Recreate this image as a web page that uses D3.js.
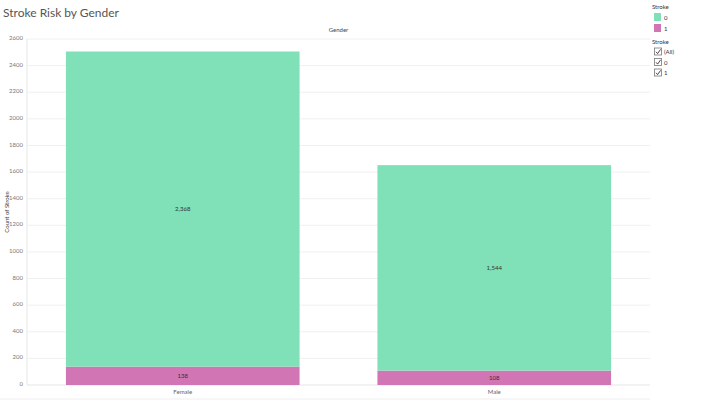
<!DOCTYPE html>
<html>
<head>
<meta charset="utf-8">
<script src="https://cdn.jsdelivr.net/npm/d3@7"></script>
<style>
  body { margin: 0; background: #fff; font-family: Lato, "Open Sans", sans-serif; }
  #graf { width: 720px; height: 400px; }
</style>
</head>
<body>
<div id="graf"></div>
<script>
const genders = ["Female", "Male"];
const stroke0 = [2368, 1544];
const stroke1 = [138, 108];
const strokeKeys = ["0", "1"];
const yTicks = d3.range(0, 2601, 200);

const colores = { "0": "#80e0b8", "1": "#d175b5" };

const ancho_total = 720;
const alto_total = 400;
const margins = { top: 39, left: 27, right: 70, bottom: 15 };
const ancho = ancho_total - margins.left - margins.right;
const alto = alto_total - margins.top - margins.bottom;

const svg = d3.select("#graf").append("svg")
  .attr("width", ancho_total)
  .attr("height", alto_total);

svg.append("text")
  .attr("x", 3).attr("y", 17)
  .style("font-size", "12px")
  .style("fill", "#555")
  .text("Stroke Risk by Gender");

const g = svg.append("g")
  .attr("transform", `translate(${margins.left}, ${margins.top})`);

const y = d3.scaleLinear().domain([0, 2600]).range([alto, 0]);
const x = d3.scaleBand().domain(genders).range([0, ancho]).paddingInner(0.25).paddingOuter(0.125);

// gridlines
g.selectAll(".grid").data(yTicks).join("line")
  .attr("x1", 0).attr("x2", ancho)
  .attr("y1", d => y(d)).attr("y2", d => y(d))
  .attr("stroke", d => d === 0 ? "#e6e6e6" : "#f0f0f0")
  .attr("stroke-width", 1);

g.append("line")
  .attr("x1", 0).attr("x2", 0).attr("y1", 0).attr("y2", alto)
  .attr("stroke", "#e6e6e6");

// y axis labels
const yAxis = d3.axisLeft(y).tickValues(yTicks).tickFormat(d3.format("d")).tickSize(0).tickPadding(4);
const yAxisGroup = g.append("g").call(yAxis);
yAxisGroup.select(".domain").remove();
yAxisGroup.selectAll("text")
  .attr("dy", "0.1em")
  .style("font-size", "6px")
  .style("fill", "#777")
  .style("font-family", "Lato, sans-serif");

svg.append("text")
  .attr("transform", `translate(9, ${margins.top + alto / 2}) rotate(-90)`)
  .attr("text-anchor", "middle")
  .style("font-size", "6px")
  .style("fill", "#444")
  .text("Count of Stroke");

// column header
svg.append("text")
  .attr("x", margins.left + ancho / 2).attr("y", 32)
  .attr("text-anchor", "middle")
  .style("font-size", "6px")
  .style("fill", "#444")
  .text("Gender");

// stacked bars
const tabla = genders.map((gn, i) => ({ gender: gn, "0": stroke0[i], "1": stroke1[i] }));
const series = d3.stack().keys(["1", "0"])(tabla);

series.forEach(s => {
  g.selectAll(null).data(s).join("rect")
    .attr("x", d => x(d.data.gender))
    .attr("width", x.bandwidth())
    .attr("y", d => y(d[1]))
    .attr("height", d => y(d[0]) - y(d[1]))
    .attr("fill", colores[s.key]);

  g.selectAll(null).data(s).join("text")
    .attr("x", d => x(d.data.gender) + x.bandwidth() / 2)
    .attr("y", d => (y(d[0]) + y(d[1])) / 2 + 2)
    .attr("text-anchor", "middle")
    .style("font-size", "6px")
    .style("fill", "#333")
    .text(d => d3.format(",")(d[1] - d[0]));
});

// x axis labels
g.selectAll(".xlab").data(genders).join("text")
  .attr("x", d => x(d) + x.bandwidth() / 2)
  .attr("y", alto + 9)
  .attr("text-anchor", "middle")
  .style("font-size", "6px")
  .style("fill", "#666")
  .text(d => d);

svg.append("line")
  .attr("x1", 0).attr("x2", 650).attr("y1", 399).attr("y2", 399)
  .attr("stroke", "#eee");

// legend
const leg = svg.append("g").attr("transform", "translate(652, 0)");
leg.append("text").attr("x", 0).attr("y", 9)
  .style("font-size", "6px").style("fill", "#333").text("Stroke");
strokeKeys.forEach((k, i) => {
  leg.append("rect").attr("x", 2).attr("y", 13 + i * 11).attr("width", 7).attr("height", 8)
    .attr("fill", colores[k]);
  leg.append("text").attr("x", 12).attr("y", 19.5 + i * 11)
    .style("font-size", "6px").style("fill", "#333").text(k);
});

leg.append("text").attr("x", 0).attr("y", 44)
  .style("font-size", "6px").style("fill", "#333").text("Stroke");
["(All)", "0", "1"].forEach((k, i) => {
  const cy = 48 + i * 10.5;
  leg.append("rect").attr("x", 2.5).attr("y", cy).attr("width", 7).attr("height", 7)
    .attr("fill", "#fff").attr("stroke", "#777").attr("stroke-width", 0.8);
  leg.append("path")
    .attr("d", `M4,${cy + 3.8} L5.6,${cy + 5.6} L8.6,${cy + 1.4}`)
    .attr("fill", "none").attr("stroke", "#333").attr("stroke-width", 0.9);
  leg.append("text").attr("x", 12).attr("y", cy + 6)
    .style("font-size", "6px").style("fill", "#333").text(k);
});
</script>
</body>
</html>
